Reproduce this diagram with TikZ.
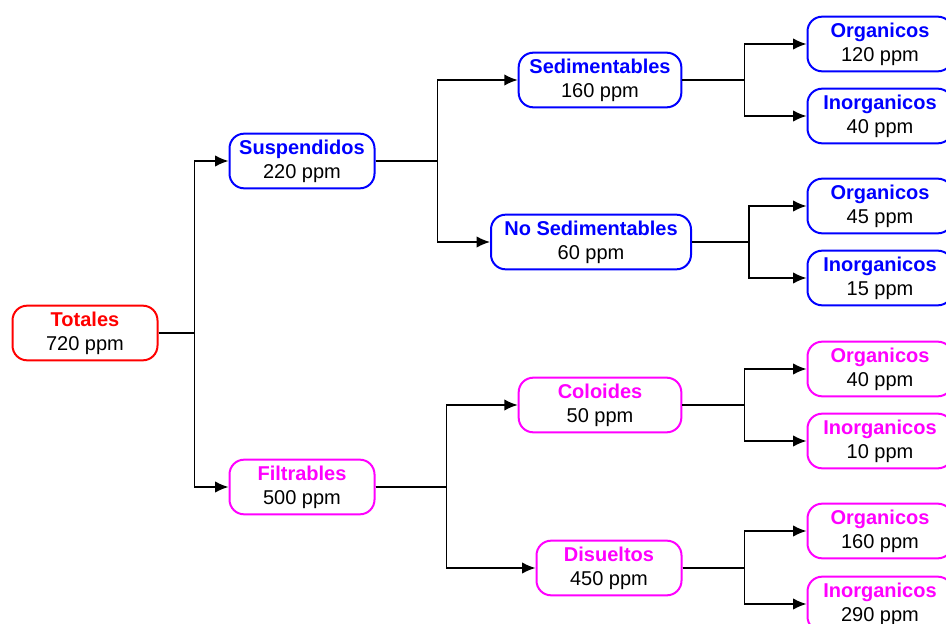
\documentclass[tikz,border=0pt]{standalone}
\usepackage{fontspec}
\setmainfont{Liberation Sans}
\usetikzlibrary{arrows.meta}
\definecolor{tred}{RGB}{255,0,0}
\definecolor{tblue}{RGB}{0,0,255}
\definecolor{tpink}{RGB}{255,0,255}

\begin{document}
\begin{tikzpicture}[x=0.75pt,y=-0.75pt,
  box/.style={draw, line width=1.5pt, rounded corners=11pt, fill=white,
    minimum width=108.75pt, minimum height=41pt, inner sep=2pt, align=center,
    font=\fontsize{15}{18}\selectfont},
  redbox/.style={box, draw=tred},
  bluebox/.style={box, draw=tblue},
  pinkbox/.style={box, draw=tpink},
  link/.style={draw, line width=1.1pt, -{Latex[length=10pt,width=8.5pt]}}]
\useasboundingbox (0,0) rectangle (946,624);
\clip (0,0) rectangle (946,624);

\node[redbox] (1) at (85,333) {\textcolor{tred}{\textbf{Totales}}\\720 ppm};
\node[bluebox] (2) at (302,161) {\textcolor{tblue}{\textbf{Suspendidos}}\\220 ppm};
\node[pinkbox] (3) at (302,487) {\textcolor{tpink}{\textbf{Filtrables}}\\500 ppm};
\node[bluebox, minimum width=122pt] (4) at (600,80) {\textcolor{tblue}{\textbf{Sedimentables}}\\160 ppm};
\node[bluebox, minimum width=150pt] (5) at (591,242) {\textcolor{tblue}{\textbf{No Sedimentables}}\\60 ppm};
\node[pinkbox, minimum width=122pt] (6) at (600,405) {\textcolor{tpink}{\textbf{Coloides}}\\50 ppm};
\node[pinkbox] (7) at (609,568) {\textcolor{tpink}{\textbf{Disueltos}}\\450 ppm};
\node[bluebox] (8) at (880,44) {\textcolor{tblue}{\textbf{Organicos}}\\120 ppm};
\node[bluebox] (9) at (880,116) {\textcolor{tblue}{\textbf{Inorganicos}}\\40 ppm};
\node[bluebox] (10) at (880,206) {\textcolor{tblue}{\textbf{Organicos}}\\45 ppm};
\node[bluebox] (11) at (880,278) {\textcolor{tblue}{\textbf{Inorganicos}}\\15 ppm};
\node[pinkbox] (12) at (880,369) {\textcolor{tpink}{\textbf{Organicos}}\\40 ppm};
\node[pinkbox] (13) at (880,441) {\textcolor{tpink}{\textbf{Inorganicos}}\\10 ppm};
\node[pinkbox] (14) at (880,531) {\textcolor{tpink}{\textbf{Organicos}}\\160 ppm};
\node[pinkbox] (15) at (880,604) {\textcolor{tpink}{\textbf{Inorganicos}}\\290 ppm};

\path[link] (1.east) -- ++(36,0) |- (2);
\path[link] (1.east) -- ++(36,0) |- (3);
\path[link] (2.east) -- ++(62,0) |- (4);
\path[link] (2.east) -- ++(62,0) |- (5);
\path[link] (3.east) -- ++(71,0) |- (6);
\path[link] (3.east) -- ++(71,0) |- (7);
\path[link] (4.east) -- ++(62,0) |- (8);
\path[link] (4.east) -- ++(62,0) |- (9);
\path[link] (5.east) -- ++(57,0) |- (10);
\path[link] (5.east) -- ++(57,0) |- (11);
\path[link] (6.east) -- ++(62,0) |- (12);
\path[link] (6.east) -- ++(62,0) |- (13);
\path[link] (7.east) -- ++(62,0) |- (14);
\path[link] (7.east) -- ++(62,0) |- (15);
\end{tikzpicture}
\end{document}
